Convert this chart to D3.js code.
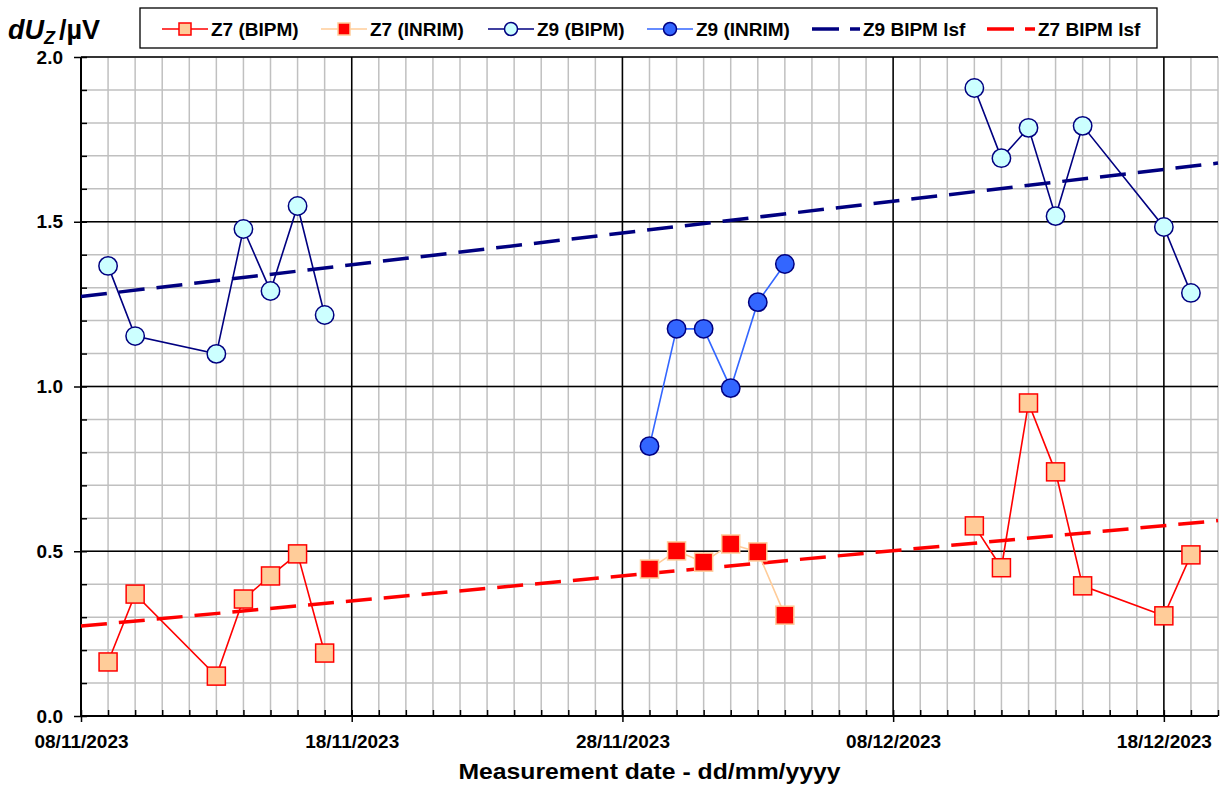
<!DOCTYPE html>
<html lang="en">
<head>
<meta charset="UTF-8">
<title>dUz vs measurement date</title>
<script src="https://d3js.org/d3.v7.min.js"></script>
<style>
    body { margin: 0; background: #fff; }
    svg text { font-family: "Liberation Sans", Arial, sans-serif; font-weight: bold; fill: #000; }
</style>
</head>
<body>
<div id="chart"></div>
<script>
// ---- data ----
const z7BipmDates = ["2023-11-09","2023-11-10","2023-11-13","2023-11-14","2023-11-15","2023-11-16","2023-11-17",
                     null,
                     "2023-12-11","2023-12-12","2023-12-13","2023-12-14","2023-12-15","2023-12-18","2023-12-19"];
const z7Bipm = [0.164, 0.370, 0.121, 0.355, 0.425, 0.492, 0.191,
                null,
                0.577, 0.450, 0.950, 0.741, 0.395, 0.304, 0.489];

const z9BipmDates = z7BipmDates;
const z9Bipm = [1.366, 1.153, 1.099, 1.478, 1.290, 1.548, 1.217,
                null,
                1.906, 1.693, 1.785, 1.517, 1.791, 1.484, 1.284];

const inrimDates = ["2023-11-29","2023-11-30","2023-12-01","2023-12-02","2023-12-03","2023-12-04"];
const z7Inrim = [0.446, 0.501, 0.467, 0.522, 0.498, 0.306];
const z9Inrim = [0.819, 1.175, 1.175, 0.995, 1.256, 1.372];

// least-squares fit lines (end points)
const lsfDates = ["2023-11-08", "2023-12-20"];
const z9Lsf = [1.273, 1.678];
const z7Lsf = [0.273, 0.593];

const xTickLabels = ["08/11/2023", "18/11/2023", "28/11/2023", "08/12/2023", "18/12/2023"];
const yTickLabels = [0.0, 0.5, 1.0, 1.5, 2.0];
const legendNames = ["Z7 (BIPM)", "Z7 (INRIM)", "Z9 (BIPM)", "Z9 (INRIM)", "Z9 BIPM lsf", "Z7 BIPM lsf"];

// ---- drawing ----
const width = 1224, height = 787;
const margin = {top: 57, right: 6, bottom: 71, left: 81};
const W = width - margin.left - margin.right,
      H = height - margin.top - margin.bottom;

const parseIso = d3.utcParse("%Y-%m-%d");
const parseTick = d3.utcParse("%d/%m/%Y");

function zip(dates, vals) {
    return dates.map((d, i) => ({date: d ? parseIso(d) : null, v: vals[i]}));
}

const x = d3.scaleUtc()
    .domain([parseIso("2023-11-08"), parseIso("2023-12-20")])
    .range([0, W]);
const y = d3.scaleLinear().domain([0, 2]).range([H, 0]);

const svg = d3.select("#chart").append("svg")
    .attr("width", width)
    .attr("height", height);

const g = svg.append("g").attr("transform", `translate(${margin.left},${margin.top})`);

const days = d3.utcDay.range(x.domain()[0], d3.utcDay.offset(x.domain()[1], 1));
const majorX = xTickLabels.map(parseTick);
const minorY = d3.range(0, 21).map(i => i / 10);

// minor grid
g.append("g").selectAll("line").data(days).enter().append("line")
    .attr("x1", d => x(d)).attr("x2", d => x(d))
    .attr("y1", 0).attr("y2", H)
    .attr("stroke", "#c0c0c0").attr("stroke-width", 1.5);
g.append("g").selectAll("line").data(minorY).enter().append("line")
    .attr("x1", 0).attr("x2", W)
    .attr("y1", d => y(d)).attr("y2", d => y(d))
    .attr("stroke", "#c0c0c0").attr("stroke-width", 1.5);

// major grid
g.append("g").selectAll("line").data(majorX).enter().append("line")
    .attr("x1", d => x(d)).attr("x2", d => x(d))
    .attr("y1", 0).attr("y2", H)
    .attr("stroke", "#000").attr("stroke-width", 1.5);
g.append("g").selectAll("line").data(yTickLabels).enter().append("line")
    .attr("x1", 0).attr("x2", W)
    .attr("y1", d => y(d)).attr("y2", d => y(d))
    .attr("stroke", "#000").attr("stroke-width", 1.5);

// axes: minor ticks inside, major ticks outside with labels
const xMinor = g.append("g").attr("transform", `translate(0,${H})`)
    .call(d3.axisBottom(x).tickValues(days).tickSize(-6).tickFormat(""));
const xMajor = g.append("g").attr("transform", `translate(0,${H})`)
    .call(d3.axisBottom(x).tickValues(majorX).tickSizeInner(6).tickSizeOuter(0).tickPadding(8)
        .tickFormat(d3.utcFormat("%d/%m/%Y")));
xMajor.selectAll("text").style("font-size", "19px").attr("dy", "0.95em");

const yMinor = g.append("g")
    .call(d3.axisLeft(y).tickValues(minorY).tickSize(-6).tickFormat(""));
const yMajor = g.append("g")
    .call(d3.axisLeft(y).tickValues(yTickLabels).tickSizeInner(7).tickSizeOuter(0).tickPadding(11)
        .tickFormat(d3.format(".1f")));
yMajor.selectAll("text").style("font-size", "19px");

[xMinor, xMajor, yMinor, yMajor].forEach(a => {
    a.selectAll("path").remove();
    a.selectAll("line").attr("stroke", "#000").attr("stroke-width", 1.5);
});

// axis lines
g.append("line").attr("x1", 0).attr("x2", 0).attr("y1", 0).attr("y2", H)
    .attr("stroke", "#000").attr("stroke-width", 2);
g.append("line").attr("x1", 0).attr("x2", W).attr("y1", H).attr("y2", H)
    .attr("stroke", "#000").attr("stroke-width", 2);

// least squares lines
const line = d3.line()
    .defined(d => d.date !== null && d.v !== null)
    .x(d => x(d.date)).y(d => y(d.v));

g.append("path").datum(zip(lsfDates, z9Lsf)).attr("d", line)
    .attr("fill", "none").attr("stroke", "#000080").attr("stroke-width", 3.5)
    .attr("stroke-dasharray", "26,12");
g.append("path").datum(zip(lsfDates, z7Lsf)).attr("d", line)
    .attr("fill", "none").attr("stroke", "#ff0000").attr("stroke-width", 3.5)
    .attr("stroke-dasharray", "26,12");

const series = [
    {data: zip(z7BipmDates, z7Bipm), line: "#ff0000", fill: "#ffcc99", stroke: "#ff0000", shape: "square"},
    {data: zip(inrimDates, z7Inrim), line: "#ffcc99", fill: "#ff0000", stroke: "#ffcc99", shape: "square"},
    {data: zip(z9BipmDates, z9Bipm), line: "#000080", fill: "#ccffff", stroke: "#000080", shape: "circle"},
    {data: zip(inrimDates, z9Inrim), line: "#3366ff", fill: "#3366ff", stroke: "#000080", shape: "circle"}
];

series.forEach(s => {
    g.append("path").datum(s.data).attr("d", line)
        .attr("fill", "none").attr("stroke", s.line).attr("stroke-width", 1.6);
    const pts = s.data.filter(d => d.date !== null);
    if (s.shape === "square") {
        g.append("g").selectAll("rect").data(pts).enter().append("rect")
            .attr("x", d => x(d.date) - 9).attr("y", d => y(d.v) - 9)
            .attr("width", 18).attr("height", 18)
            .attr("fill", s.fill).attr("stroke", s.stroke).attr("stroke-width", 1.5);
    } else {
        g.append("g").selectAll("circle").data(pts).enter().append("circle")
            .attr("cx", d => x(d.date)).attr("cy", d => y(d.v)).attr("r", 9.2)
            .attr("fill", s.fill).attr("stroke", s.stroke).attr("stroke-width", 1.5);
    }
});

// axis title
svg.append("text")
    .attr("x", margin.left + W / 2).attr("y", 779)
    .attr("text-anchor", "middle")
    .attr("textLength", 382).attr("lengthAdjust", "spacingAndGlyphs")
    .style("font-size", "22px")
    .text("Measurement date - dd/mm/yyyy");

// y title dU_Z/µV
const yt = svg.append("text").attr("x", 8).attr("y", 39).style("font-size", "27px");
yt.append("tspan").style("font-style", "italic").text("dU");
yt.append("tspan").style("font-style", "italic").style("font-size", "18px").attr("dy", 5).text("Z");
yt.append("tspan").attr("dy", -5).attr("dx", 4).text("/µV");

// legend
const legend = svg.append("g");
legend.append("rect").attr("x", 140).attr("y", 8).attr("width", 1017).attr("height", 40)
    .attr("fill", "#fff").attr("stroke", "#000").attr("stroke-width", 1.3);
const legendX = [162, 321, 488, 647, 812, 987];
const cy = 29;
legendNames.forEach((name, i) => {
    const lx = legendX[i];
    const lg = legend.append("g");
    if (i < 4) {
        const s = series[i];
        lg.append("line").attr("x1", lx).attr("x2", lx + 46).attr("y1", cy).attr("y2", cy)
            .attr("stroke", s.line).attr("stroke-width", 1.6);
        if (s.shape === "square") {
            lg.append("rect").attr("x", lx + 23 - 6).attr("y", cy - 6).attr("width", 12).attr("height", 12)
                .attr("fill", s.fill).attr("stroke", s.stroke).attr("stroke-width", 1.5);
        } else {
            lg.append("circle").attr("cx", lx + 23).attr("cy", cy).attr("r", 6.5)
                .attr("fill", s.fill).attr("stroke", s.stroke).attr("stroke-width", 1.5);
        }
    } else {
        lg.append("line").attr("x1", lx).attr("x2", lx + 48).attr("y1", cy).attr("y2", cy)
            .attr("stroke", i === 4 ? "#000080" : "#ff0000").attr("stroke-width", 3.5)
            .attr("stroke-dasharray", "27,11");
    }
    lg.append("text").attr("x", lx + (i < 4 ? 49 : 51)).attr("y", cy + 6.5)
        .style("font-size", "19px").text(name);
});
</script>
</body>
</html>
